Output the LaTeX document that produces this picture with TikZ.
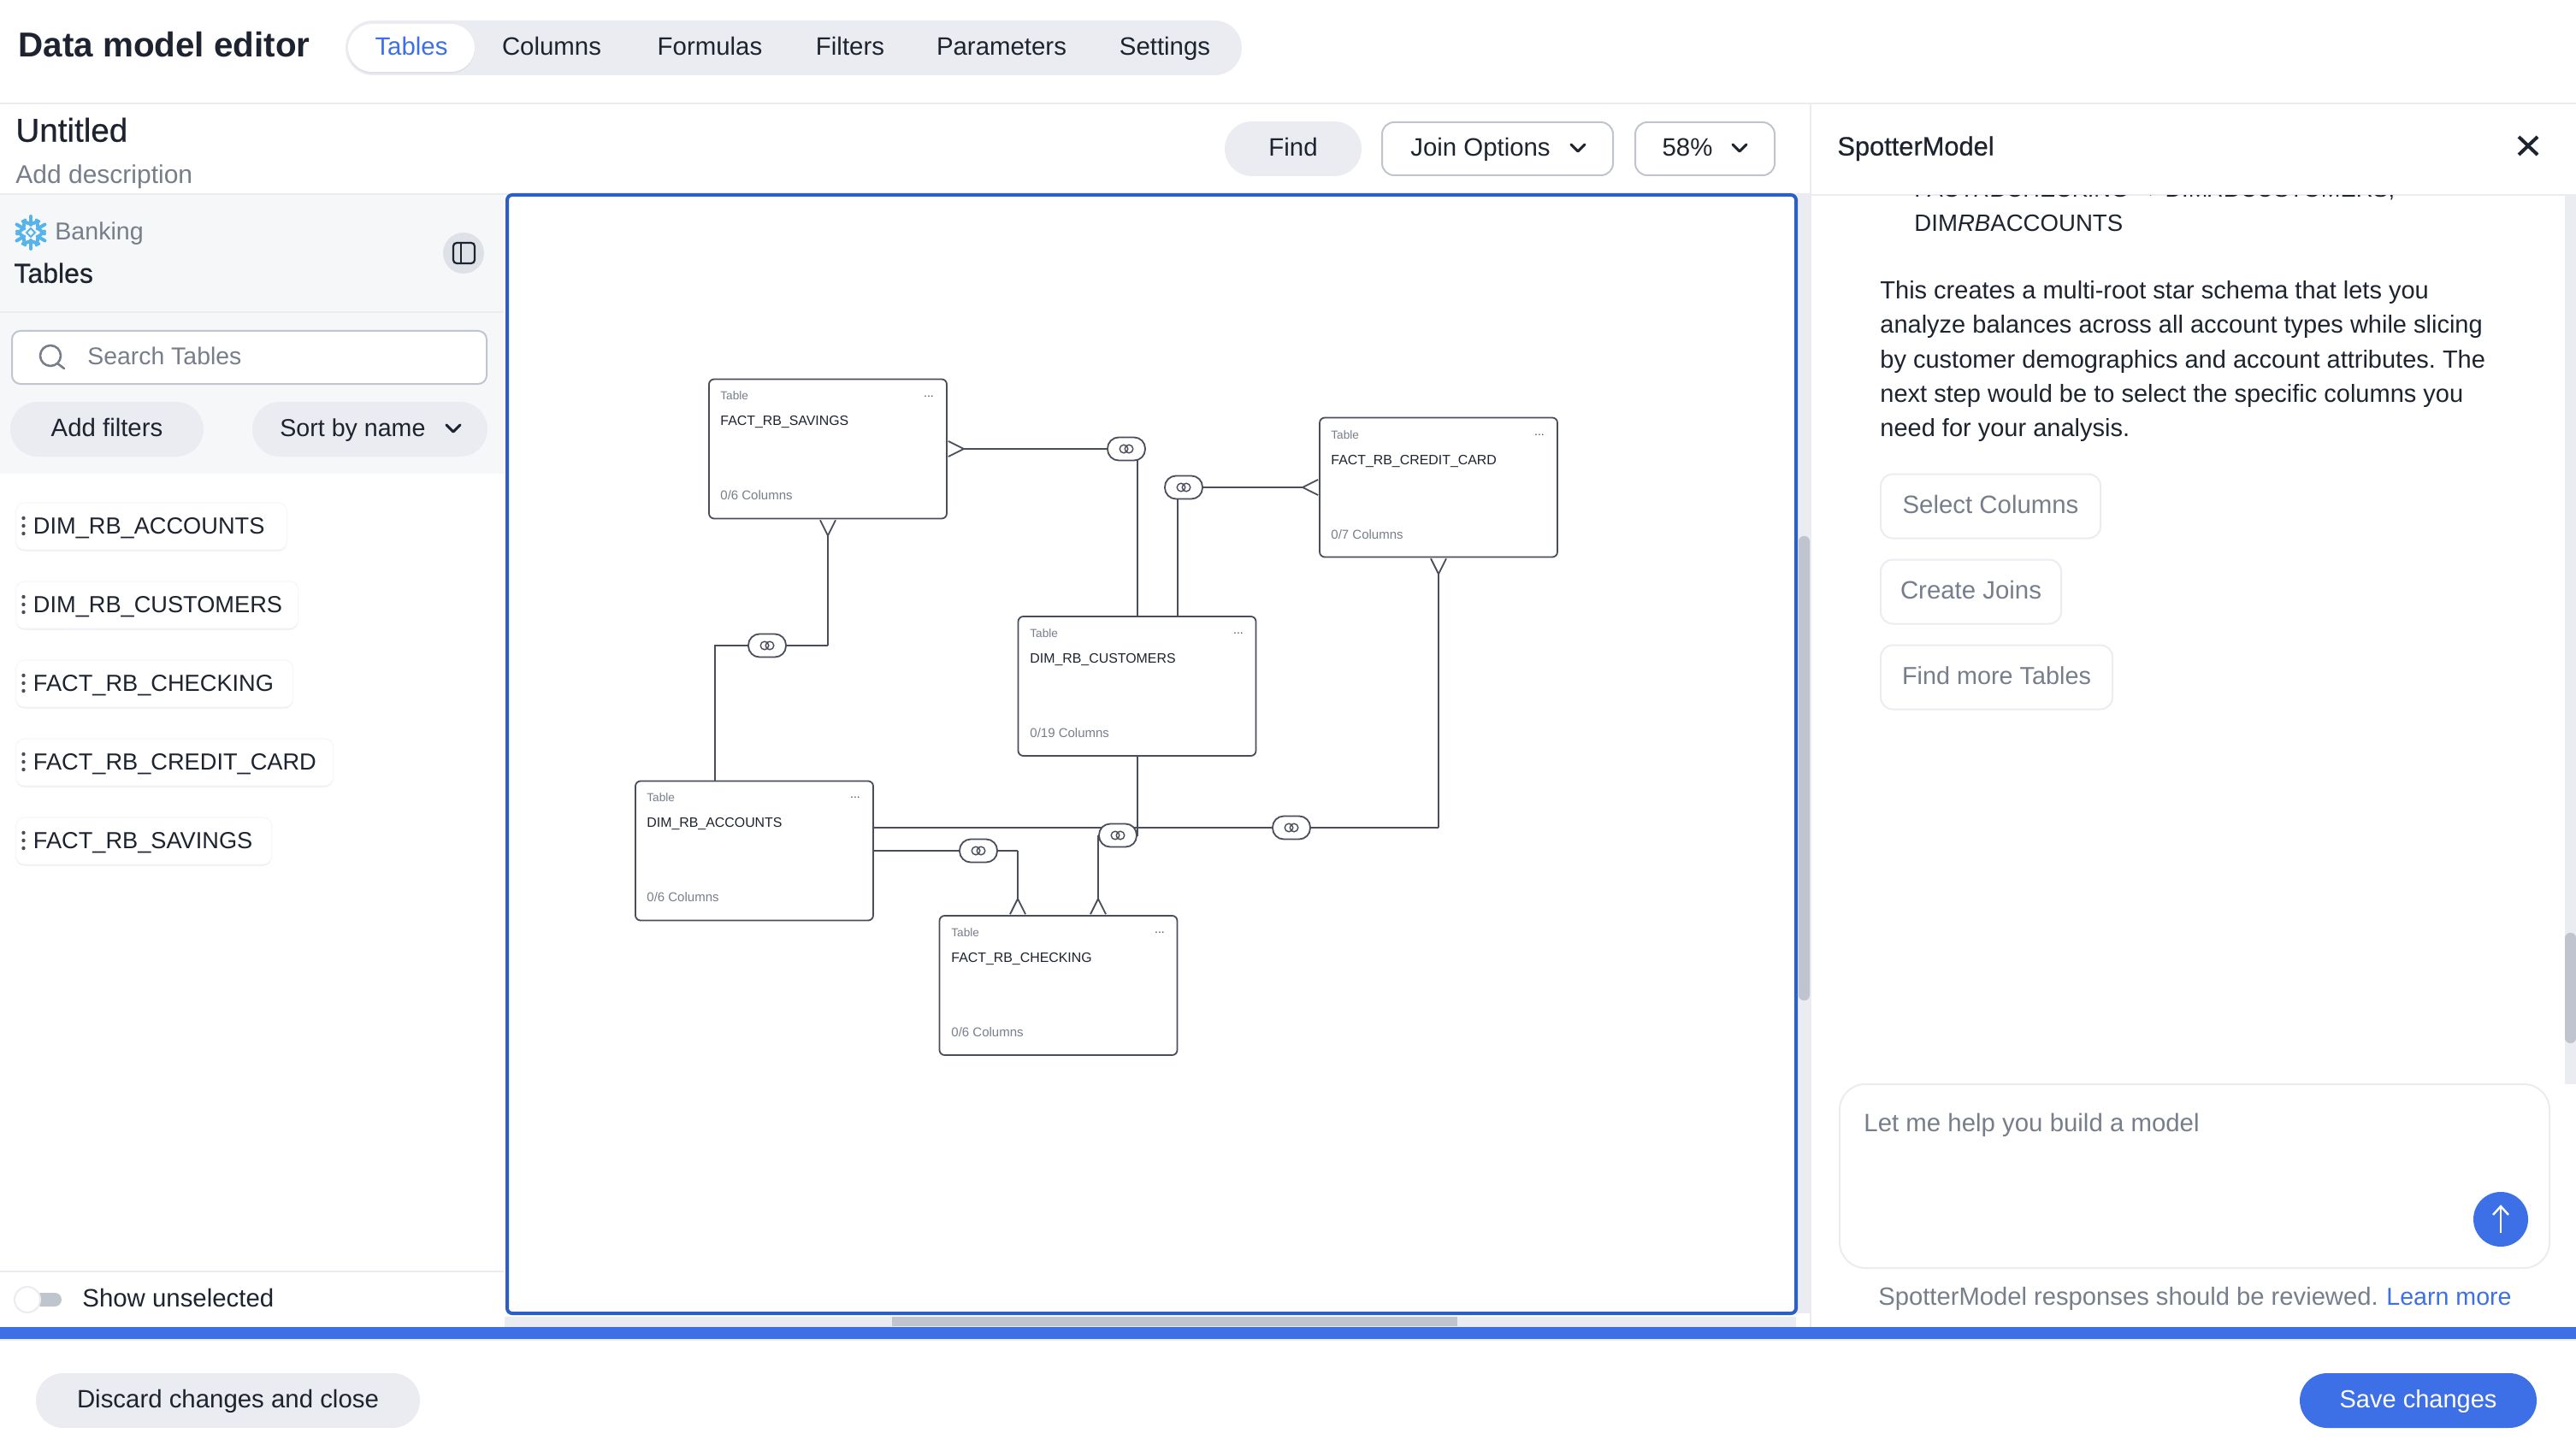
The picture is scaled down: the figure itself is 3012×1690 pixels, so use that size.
\documentclass[tikz,border=0pt]{standalone}
\usepackage{fontspec}
\setmainfont{Liberation Sans}
\newfontfamily\mediumfont[FakeBold=0.6]{Liberation Sans}
\usetikzlibrary{arrows.meta,shadows}
\definecolor{inkdark}{HTML}{1D232F}
\definecolor{inkmuted}{HTML}{777E8B}
\definecolor{linegray}{HTML}{4A4E5B}
\definecolor{borderlight}{HTML}{C0C4CE}
\definecolor{chipgray}{HTML}{EBECF1}
\definecolor{panelgray}{HTML}{F6F7F9}
\definecolor{iconchip}{HTML}{DFE1E8}
\definecolor{frameblue}{HTML}{2B5FC6}
\definecolor{barblue}{HTML}{3D6FE6}
\definecolor{snowblue}{HTML}{56B4E9}
\begin{document}
\frenchspacing
\begin{tikzpicture}[x=0.5pt,y=0.5pt]
\tikzstyle{every node}+=[inner sep=0pt]
\tikzstyle{uitext}=[text=inkdark,text height=11pt,text depth=2.25pt,font=\fontsize{14.7}{17}\selectfont]
\tikzstyle{mutedtext}=[uitext,text=inkmuted]
\tikzstyle{paratext}=[uitext,anchor=base west,font=\fontsize{14.5}{17}\selectfont]
\tikzstyle{listtext}=[uitext,anchor=west,font=\fontsize{13.6}{16}\selectfont]
\tikzstyle{chip}=[uitext,fill=chipgray,rounded corners=16pt,minimum height=32pt]
\tikzstyle{outlined}=[uitext,draw=borderlight,line width=1pt,fill=white,rounded corners=7pt,minimum height=31pt]
\tikzstyle{listcard}=[uitext,anchor=west,draw=panelgray,line width=0.6pt,fill=white,rounded corners=5pt,minimum height=27.5pt,drop shadow={shadow xshift=0pt,shadow yshift=-0.8pt,fill=chipgray,opacity=1}]
\tikzstyle{suggestion}=[mutedtext,draw=chipgray,line width=1pt,fill=white,rounded corners=7pt,minimum height=37.5pt]
\tikzstyle{tablebox}=[draw=linegray,line width=0.9pt,fill=white,rounded corners=3pt,minimum width=139pt,minimum height=81.5pt]
\tikzstyle{tablekind}=[anchor=west,text=inkmuted,text height=5pt,text depth=1.5pt,font=\fontsize{6.8}{8}\selectfont]
\tikzstyle{tablename}=[anchor=west,text=inkdark,text height=5.8pt,text depth=1.6pt,font=\fontsize{7.95}{9}\selectfont]
\tikzstyle{tablecols}=[anchor=west,text=inkmuted,text height=5.6pt,text depth=1.5pt,font=\fontsize{7.5}{9}\selectfont]
\tikzstyle{tabledots}=[text=linegray,font=\fontsize{7}{8}\selectfont]
\tikzstyle{joinline}=[draw=linegray,line width=0.9pt]
\tikzstyle{crowline}=[joinline,-{Straight Barb[reversed,length=9pt,width=9pt,line width=0.9pt]}]
\tikzstyle{pill}=[draw=linegray,line width=0.9pt,fill=white,rounded corners=6.5pt,minimum width=22pt,minimum height=13.5pt]
\tikzstyle{chevron}=[draw=inkdark,line width=1.5pt,line join=round,line cap=round]
\useasboundingbox (0,0) rectangle (3012,-1690);
\fill [white] (0,0) rectangle (3012,-1690);
\fill [panelgray] (0,-228) rectangle (589,-554);
\fill [chipgray] (0,-120) rectangle (3012,-122.5);
\fill [chipgray] (0,-226) rectangle (2117,-228.5);
\fill [chipgray] (2117,-227) rectangle (3012,-229);
\fill [chipgray] (0,-364) rectangle (589,-366);
\fill [chipgray] (0,-1486) rectangle (589,-1488);
\fill [chipgray] (2116,-122) rectangle (2118,-1552);
\fill [chipgray] (590,-1540) rectangle (2100,-1552);
\fill [chipgray] (2101,-228) rectangle (2116,-1536);
\fill [chipgray] (2999,-228) rectangle (3012,-1268);
\fill [borderlight] (1043,-1540) rectangle (1704,-1551);
\fill [borderlight,rounded corners=3pt] (2103,-627) rectangle (2116,-1170);
\fill [borderlight,rounded corners=3pt] (2999,-1091) rectangle (3012,-1220);
\fill [barblue] (0,-1552) rectangle (3012,-1566);
\fill [chipgray] (0,-1566) rectangle (3012,-1568);
\node (title) [uitext,anchor=west,font=\bfseries\fontsize{20.2}{24}\selectfont] at (21,-58) {Data model editor};
\fill [chipgray,rounded corners=16pt] (404,-24) rectangle (1452,-88);
\node (tabtables) [uitext,fill=white,text=barblue,rounded corners=14pt,minimum width=74pt,minimum height=28pt,drop shadow={shadow xshift=0pt,shadow yshift=-1pt,fill=iconchip,opacity=1}] at (481,-56) {Tables};
\node (tabcolumns) [uitext] at (645,-56) {Columns};
\node (tabformulas) [uitext] at (830,-56) {Formulas};
\node (tabfilters) [uitext] at (994,-56) {Filters};
\node (tabparams) [uitext] at (1171,-56) {Parameters};
\node (tabsettings) [uitext] at (1362,-56) {Settings};
\node (untitled) [uitext,anchor=west,font=\mediumfont\fontsize{19.3}{22}\selectfont] at (18,-157) {Untitled};
\node (adddesc) [mutedtext,anchor=west,font=\fontsize{15}{18}\selectfont] at (18,-206) {Add description};
\node (findbtn) [chip,minimum width=80pt] at (1512,-174) {Find};
\node (joinbtn) [outlined,minimum width=135pt] at (1751,-174) {};
\node (jointext) [uitext] at (1731,-174) {Join Options};
\draw [chevron] (1837,-169) -- (1845,-177) -- (1853,-169);
\node (zoombtn) [outlined,minimum width=81.5pt] at (1993.5,-174) {};
\node (zoomtext) [uitext] at (1973,-174) {58\%};
\draw [chevron] (2026,-169) -- (2034,-177) -- (2042,-169);
\foreach \a in {30,90,...,330} {
\draw [snowblue,line width=2pt,line cap=round] ([shift={(\a:9)}]36,-272) -- ([shift={(\a:19)}]36,-272);
\draw [snowblue,line width=2pt,line cap=round] ([shift={(\a+35:16)}]36,-272) -- ([shift={(\a:10)}]36,-272) -- ([shift={(\a-35:16)}]36,-272);
}
\draw [snowblue,line width=0.9pt] (36,-267) -- (41,-272) -- (36,-277) -- (31,-272) -- cycle;
\node (banking) [mutedtext,anchor=west,font=\fontsize{14.3}{17}\selectfont] at (64,-272) {Banking};
\node (tableshead) [uitext,anchor=west,font=\mediumfont\fontsize{16}{19}\selectfont] at (16,-322) {Tables};
\fill [iconchip] (542,-296) circle (24);
\draw [inkdark,line width=1.1pt,rounded corners=2pt] (530,-284) rectangle (555,-308);
\draw [inkdark,line width=1.1pt] (539,-284) -- (539,-308);
\node (searchbox) [outlined,anchor=west,minimum width=277.5pt,rounded corners=5pt] at (13,-418) {};
\draw [inkmuted,line width=1.3pt] (59,-416) circle (12);
\draw [inkmuted,line width=1.3pt,line cap=round] (67,-425) -- (75,-431);
\node (searchtext) [mutedtext,anchor=west,font=\fontsize{14.2}{17}\selectfont] at (102,-418) {Search Tables};
\node (addfilters) [chip,minimum width=113pt] at (125,-502) {Add filters};
\node (sortchip) [chip,minimum width=137.5pt] at (432.5,-502) {};
\node (sorttext) [uitext,anchor=west,font=\fontsize{14.3}{17}\selectfont] at (327,-502) {Sort by name};
\draw [chevron] (522,-497) -- (530,-505) -- (538,-497);
\node (item1) [listcard,minimum width=158.5pt] at (18,-615.5) {};
\node (item1text) [listtext] at (38.5,-615.5) {DIM\_RB\_ACCOUNTS};
\node (item2) [listcard,minimum width=165pt] at (18,-707.5) {};
\node (item2text) [listtext] at (38.5,-707.5) {DIM\_RB\_CUSTOMERS};
\node (item3) [listcard,minimum width=162pt] at (18,-799.5) {};
\node (item3text) [listtext] at (38.5,-799.5) {FACT\_RB\_CHECKING};
\node (item4) [listcard,minimum width=185.5pt] at (18,-891.5) {};
\node (item4text) [listtext] at (38.5,-891.5) {FACT\_RB\_CREDIT\_CARD};
\node (item5) [listcard,minimum width=149.5pt] at (18,-983.5) {};
\node (item5text) [listtext] at (38.5,-983.5) {FACT\_RB\_SAVINGS};
\foreach \y in {615,707,799,891,983} {
\fill [linegray] (27.5,-\y-9) circle (2.2);
\fill [linegray] (27.5,-\y) circle (2.2);
\fill [linegray] (27.5,-\y+9) circle (2.2);
}
\fill [borderlight,rounded corners=4pt] (40,-1512) rectangle (72,-1528);
\filldraw [fill=white,draw=chipgray,line width=1pt] (32,-1520) circle (15);
\node (showunsel) [uitext,anchor=west] at (96,-1520) {Show unselected};
\node (discard) [chip,minimum width=224.5pt] at (266.5,-1638) {Discard changes and close};
\node (savebtn) [chip,fill=barblue,text=white,minimum width=138.5pt,font=\fontsize{14.5}{17}\selectfont] at (2827.5,-1638) {Save changes};
\draw [frameblue,line width=2pt,rounded corners=3pt] (593,-228) rectangle (2100,-1536);
\node (savings) [tablebox] at (968,-525) {};
\node (savingskind) [tablekind] at (842,-464) {Table};
\node (savingsdots) [tabledots] at (1086,-464) {...};
\node (savingsname) [tablename] at (842,-493) {FACT\_RB\_SAVINGS};
\node (savingscols) [tablecols] at (842,-580) {0/6 Columns};
\node (credit) [tablebox] at (1682,-570) {};
\node (creditkind) [tablekind] at (1556,-510) {Table};
\node (creditdots) [tabledots] at (1800,-509) {...};
\node (creditname) [tablename] at (1556,-539) {FACT\_RB\_CREDIT\_CARD};
\node (creditcols) [tablecols] at (1556,-626) {0/7 Columns};
\node (customers) [tablebox] at (1329.5,-802.5) {};
\node (customerskind) [tablekind] at (1204,-742) {Table};
\node (customersdots) [tabledots] at (1448,-741) {...};
\node (customersname) [tablename] at (1204,-771) {DIM\_RB\_CUSTOMERS};
\node (customerscols) [tablecols] at (1204,-858) {0/19 Columns};
\node (accounts) [tablebox] at (882,-995) {};
\node (accountskind) [tablekind] at (756,-934) {Table};
\node (accountsdots) [tabledots] at (1000,-933) {...};
\node (accountsname) [tablename] at (756,-963) {DIM\_RB\_ACCOUNTS};
\node (accountscols) [tablecols] at (756,-1050) {0/6 Columns};
\node (checking) [tablebox] at (1237.5,-1152.5) {};
\node (checkingkind) [tablekind] at (1112,-1092) {Table};
\node (checkingdots) [tabledots] at (1356,-1091) {...};
\node (checkingname) [tablename] at (1112,-1121) {FACT\_RB\_CHECKING};
\node (checkingcols) [tablecols] at (1112,-1208) {0/6 Columns};
\coordinate (join1) at (1317,-525);
\coordinate (join2) at (1384,-570);
\coordinate (join3) at (897,-755);
\coordinate (join4) at (1144,-995);
\coordinate (join5) at (1307,-977);
\coordinate (join6) at (1510,-968);
\coordinate (drop1) at (1330,-525);
\coordinate (drop2) at (1377,-570);
\coordinate (bend3) at (968,-755);
\coordinate (bend3b) at (836,-755);
\coordinate (bend4) at (1190,-995);
\coordinate (bend5) at (1284,-977);
\coordinate (bend5b) at (1330,-977);
\draw [crowline] (join1) -- (savings.east |- join1);
\draw [joinline] (drop1 |- join1) -- (drop1 |- customers.north);
\draw [crowline] (join2) -- (credit.west |- join2);
\draw [joinline] (drop2) -- (drop2 |- customers.north);
\draw [crowline] (bend3) -- (bend3 |- savings.south);
\draw [joinline] (bend3) -- (bend3b) -- (bend3b |- accounts.north);
\draw [joinline] (join4 -| accounts.east) -- (bend4);
\draw [crowline] (bend4) -- (bend4 |- checking.north);
\draw [joinline] (customers.south -| drop1) -- (bend5b) -- (bend5);
\draw [crowline] (bend5) -- (bend5 |- checking.north);
\draw [joinline] (join6 -| accounts.east) -- (join6 -| credit.south);
\draw [crowline] (join6 -| credit.south) -- (credit.south);
\foreach \j in {1,...,6} {
\node (pill\j) [pill] at (join\j) {};
\draw [linegray,line width=0.7pt] ([xshift=-1.5pt]pill\j.center) circle [radius=2.4pt];
\draw [linegray,line width=0.7pt] ([xshift=1.5pt]pill\j.center) circle [radius=2.4pt];
}
\node (spotter) [uitext,anchor=west,font=\mediumfont\fontsize{15.4}{18}\selectfont] at (2148,-173) {SpotterModel};
\draw [inkdark,line width=2pt] (2945,-160) -- (2967,-181);
\draw [inkdark,line width=2pt] (2967,-160) -- (2945,-181);
\begin{scope}
\clip (2118,-229) rectangle (2999,-300);
\node (clipped) [paratext,font=\fontsize{13.6}{16}\selectfont] at (2238,-231) {FACT\textit{RB}CHECKING → DIM\textit{RB}CUSTOMERS,};
\end{scope}
\node (accline) [paratext,font=\fontsize{13.8}{16}\selectfont] at (2238,-271) {DIM\textit{RB}ACCOUNTS};
\node (para1) [paratext] at (2198,-350) {This creates a multi-root star schema that lets you};
\node (para2) [paratext] at (2198,-390) {analyze balances across all account types while slicing};
\node (para3) [paratext] at (2198,-430) {by customer demographics and account attributes. The};
\node (para4) [paratext] at (2198,-470) {next step would be to select the specific columns you};
\node (para5) [paratext] at (2198,-510) {need for your analysis.};
\node (selectcols) [suggestion,minimum width=128.5pt] at (2327.5,-592) {Select Columns};
\node (createjoins) [suggestion,minimum width=105.5pt] at (2304.5,-692) {Create Joins};
\node (findtables) [suggestion,minimum width=135.5pt,font=\fontsize{14.4}{17}\selectfont] at (2334.5,-792) {Find more Tables};
\draw [chipgray,line width=1pt,rounded corners=15pt] (2151,-1268) rectangle (2981,-1483);
\node (prompt) [mutedtext,anchor=west] at (2179,-1315) {Let me help you build a model};
\fill [barblue] (2924,-1426) circle (32);
\draw [white,line width=1.2pt,-{Straight Barb[length=5pt,width=9pt]}] (2924,-1442) -- (2924,-1409);
\node (reviewnote) [mutedtext,anchor=west,font=\fontsize{14.6}{17}\selectfont] at (2196,-1518) {SpotterModel responses should be reviewed.};
\node (learnmore) [uitext,anchor=west,text=barblue,font=\fontsize{14.3}{17}\selectfont] at (2790,-1518) {Learn more};
\end{tikzpicture}
\end{document}
